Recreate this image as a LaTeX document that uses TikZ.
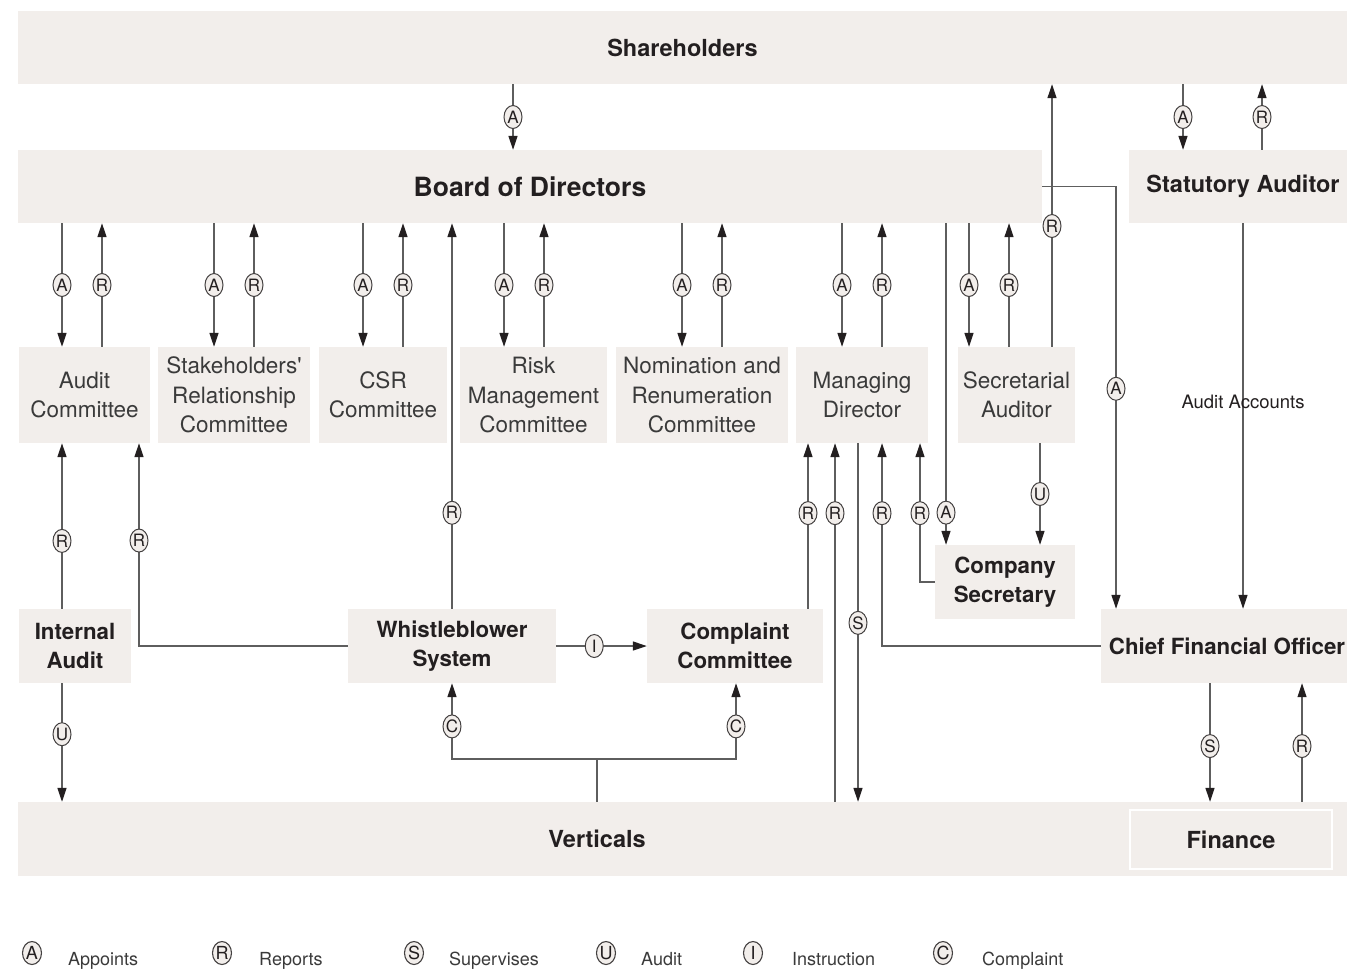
\documentclass[tikz,border=0pt]{standalone}
\usepackage{fontspec}
\setmainfont{TeX Gyre Heros}
\usetikzlibrary{arrows.meta,shapes.geometric}
\definecolor{boxfill}{HTML}{F2EEEB}
\definecolor{linec}{HTML}{5E5E5E}
\definecolor{darktxt}{HTML}{231F20}
\definecolor{lighttxt}{HTML}{3A3A3A}
\tikzset{
  box/.style={fill=boxfill, inner sep=0pt, align=center},
  head/.style={font=\fontsize{23.5}{29}\selectfont\bfseries, text=darktxt},
  bighead/.style={font=\fontsize{26.5}{30}\selectfont\bfseries, text=darktxt},
  boldtwo/.style={font=\fontsize{22.3}{29}\selectfont\bfseries, text=darktxt},
  lighttext/.style={font=\fontsize{22.5}{29.5}\selectfont, text=lighttxt},
  conn/.style={draw=linec, line width=1.2pt},
  arr/.style={conn, -{Triangle[length=14pt,width=9pt,color=darktxt]}},
  lab/.style={ellipse, draw=darktxt!85, line width=1pt, fill=boxfill, inner sep=0pt,
    minimum width=18pt, minimum height=23pt, font=\fontsize{17}{17}\selectfont, text=darktxt},
  legsym/.style={ellipse, draw=darktxt!85, line width=1.1pt, fill=boxfill, inner sep=0pt,
    minimum width=19pt, minimum height=23pt, font=\fontsize{18}{18}\selectfont, text=darktxt},
  legtext/.style={anchor=base west, font=\fontsize{18}{18}\selectfont, text=lighttxt, inner sep=0pt},
}
\begin{document}
\begin{tikzpicture}[x=1pt,y=-1pt]
\useasboundingbox (0,0) rectangle (1347,970);
% boxes
\node[box, head, minimum width=1329pt, minimum height=73pt] (sh) at (682.5,47.5) {Shareholders};
\node[box, bighead, minimum width=1024pt, minimum height=73pt] (bod) at (530,186.5) {Board of Directors};
\node[box, head, minimum width=218pt, minimum height=73pt] (sa) at (1238,186.5) {\hspace*{10pt}Statutory Auditor};
\node[box, lighttext, minimum width=131pt, minimum height=96pt] (ac) at (84.5,395) {Audit\\Committee};
\node[box, lighttext, minimum width=152pt, minimum height=96pt] (src) at (234,395) {Stakeholders\textquotesingle\\Relationship\\Committee};
\node[box, lighttext, minimum width=128pt, minimum height=96pt] (csr) at (383,395) {CSR\\Committee};
\node[box, lighttext, minimum width=147pt, minimum height=96pt] (rmc) at (533.5,395) {Risk\\Management\\Committee};
\node[box, lighttext, minimum width=172pt, minimum height=96pt] (nrc) at (702,395) {Nomination and\\Renumeration\\Committee};
\node[box, lighttext, minimum width=132pt, minimum height=96pt] (md) at (862,395) {Managing\\Director};
\node[box, lighttext, minimum width=117pt, minimum height=96pt] (secaud) at (1016.5,395) {Secretarial\\Auditor};
\node[box, boldtwo, minimum width=140pt, minimum height=74pt] (cs) at (1005,582) {Company\\Secretary};
\node[box, boldtwo, minimum width=112pt, minimum height=74pt] (ia) at (75,646) {Internal\\Audit};
\node[box, boldtwo, minimum width=208pt, minimum height=74pt] (wb) at (452,646) {Whistleblower\\System};
\node[box, boldtwo, minimum width=176pt, minimum height=74pt] (cc) at (735,646) {Complaint\\Committee};
\node[box, boldtwo, minimum width=246pt, minimum height=74pt] (cfo) at (1224,646) {\hspace*{6pt}Chief Financial Officer};
\node[box, minimum width=1329pt, minimum height=74pt] (vert) at (682.5,839) {};
\node[head] (verttext) at (597,839) {Verticals};
\node[box, head, draw=white, line width=2.5pt, minimum width=202pt, minimum height=59pt] (fin) at (1231,839.5) {Finance};

% shareholders links
\draw[arr] (sh.south -| 513,0) -- node[lab]{A} (bod.north -| 513,0);
\draw[arr] (sh.south -| 1183,0) -- node[lab]{A} (sa.north -| 1183,0);
\draw[arr] (sa.north -| 1262,0) -- node[lab]{R} (sh.south -| 1262,0);
% board to CFO
\draw[arr] (bod.east) -- (1116,186.5) -- node[lab,pos=0.479]{A} (cfo.north -| 1116,0);
% statutory auditor to CFO
\draw[arr] (sa.south -| 1243,0) -- (cfo.north -| 1243,0);
\node[font=\fontsize{18.5}{18.5}\selectfont, text=darktxt] (aa) at (1243,402) {Audit Accounts};
% committees
\draw[arr] (bod.south -| 62,0) -- node[lab]{A} (ac.north -| 62,0);
\draw[arr] (ac.north -| 102,0) -- node[lab]{R} (bod.south -| 102,0);
\draw[arr] (bod.south -| 214,0) -- node[lab]{A} (src.north -| 214,0);
\draw[arr] (src.north -| 254,0) -- node[lab]{R} (bod.south -| 254,0);
\draw[arr] (bod.south -| 363,0) -- node[lab]{A} (csr.north -| 363,0);
\draw[arr] (csr.north -| 403,0) -- node[lab]{R} (bod.south -| 403,0);
\draw[arr] (bod.south -| 504,0) -- node[lab]{A} (rmc.north -| 504,0);
\draw[arr] (rmc.north -| 544,0) -- node[lab]{R} (bod.south -| 544,0);
\draw[arr] (bod.south -| 682,0) -- node[lab]{A} (nrc.north -| 682,0);
\draw[arr] (nrc.north -| 722,0) -- node[lab]{R} (bod.south -| 722,0);
\draw[arr] (bod.south -| 842,0) -- node[lab]{A} (md.north -| 842,0);
\draw[arr] (md.north -| 882,0) -- node[lab]{R} (bod.south -| 882,0);
\draw[arr] (bod.south -| 969,0) -- node[lab]{A} (secaud.north -| 969,0);
\draw[arr] (secaud.north -| 1009,0) -- node[lab]{R} (bod.south -| 1009,0);
% secretarial auditor to shareholders
\draw[arr] (secaud.north -| 1052,0) -- node[lab,pos=0.46]{R} (sh.south -| 1052,0);
% board to company secretary
\draw[arr] (bod.south -| 946,0) -- node[lab,pos=0.90]{A} (cs.north -| 946,0);
% secretarial auditor to company secretary
\draw[arr] (secaud.south -| 1040,0) -- node[lab]{U} (cs.north -| 1040,0);
% whistleblower to board
\draw[arr] (wb.north) -- node[lab,pos=0.249]{R} (bod.south -| wb.north);
% internal audit to audit committee
\draw[arr] (ia.north -| 62,0) -- node[lab,pos=0.41]{R} (ac.south -| 62,0);
% whistleblower to audit committee
\draw[arr] (wb.west) -- (139,646) -- node[lab,pos=0.52]{R} (ac.south -| 139,0);
% whistleblower to complaint committee
\draw[arr] (wb.east) -- node[lab,pos=0.42]{I} (cc.west);
% internal audit to verticals
\draw[arr] (ia.south -| 62,0) -- node[lab,pos=0.43]{U} (vert.north -| 62,0);
% verticals complaints
\draw[conn] (vert.north -| 597,0) -- (597,759) coordinate (vj);
\draw[arr] (vj) -- (452,759) -- node[lab,pos=0.43]{C} (wb.south);
\draw[arr] (vj) -- (736,759) -- node[lab,pos=0.43]{C} (cc.south -| 736,0);
% links to managing director
\draw[arr] (cc.north -| 808,0) -- node[lab,pos=0.578]{R} (md.south -| 808,0);
\draw[arr] (vert.north -| 835,0) -- node[lab,pos=0.805]{R} (md.south -| 835,0);
\draw[arr] (md.south -| 858,0) -- node[lab,pos=0.501]{S} (vert.north -| 858,0);
\draw[arr] (cfo.west) -- (882,646) -- node[lab,pos=0.655]{R} (md.south -| 882,0);
\draw[arr] (cs.west) -- (920,582) -- node[lab,pos=0.496]{R} (md.south -| 920,0);
% CFO and finance
\draw[arr] (cfo.south -| 1210,0) -- node[lab,pos=0.53]{S} (vert.north -| 1210,0);
\draw[arr] (vert.north -| 1302,0) -- node[lab,pos=0.47]{R} (cfo.south -| 1302,0);

% legend
\node[legsym] (lA) at (32,953) {A};
\node[legtext] (tA) at (68,965) {Appoints};
\node[legsym] (lR) at (222,953) {R};
\node[legtext] (tR) at (259,965) {Reports};
\node[legsym] (lS) at (414,953) {S};
\node[legtext] (tS) at (449,965) {Supervises};
\node[legsym] (lU) at (606,953) {U};
\node[legtext] (tU) at (641,965) {Audit};
\node[legsym] (lI) at (753,953) {I};
\node[legtext] (tI) at (792,965) {Instruction};
\node[legsym] (lC) at (943,953) {C};
\node[legtext] (tC) at (982,965) {Complaint};
\end{tikzpicture}
\end{document}
